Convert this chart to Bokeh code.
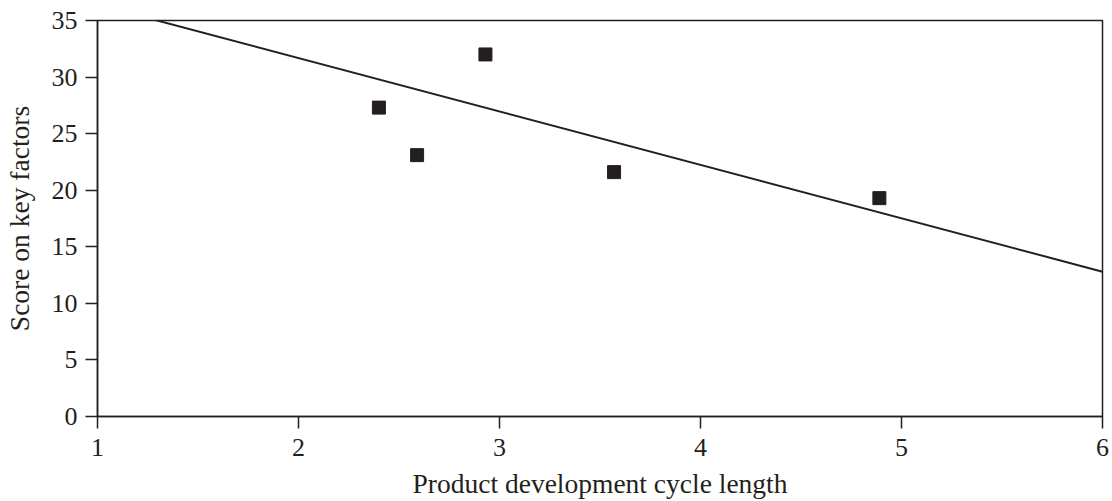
from bokeh.plotting import figure
from bokeh.models import ColumnDataSource, Range1d, FixedTicker
from bokeh.embed import file_html
from bokeh.resources import INLINE

# Data
cycle_length = [2.40, 2.59, 2.93, 3.57, 4.89]
key_factor_score = [27.3, 23.1, 32.0, 21.6, 19.3]
trend_x = [1.0, 6.0]
trend_y = [36.4, 12.8]
x_ticks = [1, 2, 3, 4, 5, 6]
y_ticks = [0, 5, 10, 15, 20, 25, 30, 35]

INK = "#231f20"
FONT = "Liberation Serif"

p = figure(width=1112, height=501, output_backend="svg", toolbar_location=None,
           x_range=Range1d(1, 6), y_range=Range1d(0, 35),
           min_border_left=96, min_border_right=10, min_border_top=20, min_border_bottom=85)

p.line(trend_x, trend_y, line_color=INK, line_width=2)
src = ColumnDataSource(dict(x=cycle_length, y=key_factor_score))
p.scatter("x", "y", source=src, marker="square", size=13, fill_color=INK, line_color=INK)

p.xgrid.visible = False
p.ygrid.visible = False
p.outline_line_color = INK
p.outline_line_width = 1.5
p.background_fill_color = "white"
p.border_fill_color = "white"

for ax, ticks in ((p.xaxis[0], x_ticks), (p.yaxis[0], y_ticks)):
    ax.ticker = FixedTicker(ticks=ticks)
    ax.minor_tick_line_color = None
    ax.major_tick_in = 0
    ax.major_tick_out = 12
    ax.axis_line_color = INK
    ax.axis_line_width = 1.5
    ax.major_tick_line_color = INK
    ax.major_tick_line_width = 1.5
    ax.major_label_text_font = FONT
    ax.major_label_text_font_size = "26px"
    ax.major_label_text_color = INK
    ax.axis_label_text_font = FONT
    ax.axis_label_text_font_size = "27.5px"
    ax.axis_label_text_font_style = "normal"
    ax.axis_label_text_color = INK

p.xaxis.axis_label = "Product development cycle length"
p.yaxis.axis_label = "Score on key factors"
p.xaxis.major_label_standoff = 10
p.xaxis.axis_label_standoff = 9
p.yaxis.major_label_standoff = 8
p.yaxis.axis_label_standoff = 14

open("out.html", "w").write(file_html(p, INLINE))
